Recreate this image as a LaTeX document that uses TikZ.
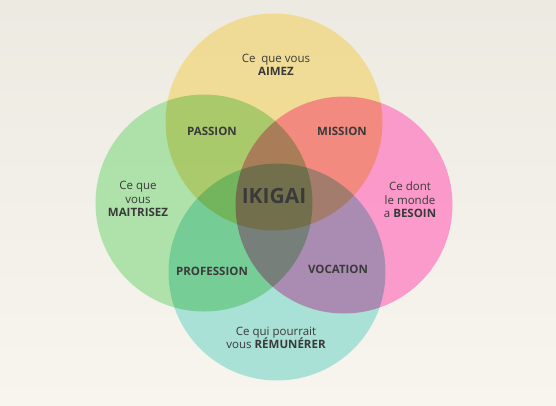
\documentclass[tikz,border=0pt]{standalone}
\usepackage{fontspec}
\setmainfont{Open Sans}
\definecolor{bgtop}{HTML}{ECEAE1}
\definecolor{bgbot}{HTML}{F7F5EE}
\definecolor{yel}{HTML}{F2D679}
\definecolor{grn}{HTML}{95DD93}
\definecolor{pnk}{HTML}{FF7AC0}
\definecolor{tea}{HTML}{8CDBCE}
\definecolor{txt}{HTML}{3A3A3A}
\begin{document}
\begin{tikzpicture}[x=1pt,y=-1pt,
  circ/.style={circle, minimum size=217pt, inner sep=0pt, draw=none, fill opacity=0.72},
  lbl/.style={text=txt, align=center, font=\fontsize{11.5}{13.5}\selectfont, inner sep=0pt},
  zonelbl/.style={lbl, font=\fontsize{11.5}{13.5}\selectfont\bfseries},
  biglbl/.style={text=txt, inner sep=0pt, font=\fontsize{21}{24}\selectfont\bfseries}]
\useasboundingbox (0,0) rectangle (556,405);
\shade[top color=bgtop, bottom color=bgbot] (0,0) rectangle (556,405);
\begin{scope}[blend group=multiply]
  \node[circ, fill=yel] (aimez) at (274,122) {};
  \node[circ, fill=grn] (maitrise) at (204,203) {};
  \node[circ, fill=pnk] (besoin) at (344,205) {};
  \node[circ, fill=tea] (remun) at (277,272) {};
\end{scope}
\node[lbl] (t1) at (276,65) {Ce\enspace que vous\\\textbf{AIMEZ}};
\node[lbl] (t2) at (138,199) {Ce que\\vous\\\textbf{MAITRISEZ}};
\node[lbl] (t3) at (410,200) {Ce dont\\le monde\\a \textbf{BESOIN}};
\node[lbl] (t4) at (276,338) {Ce qui pourrait\\vous \textbf{RÉMUNÉRER}};
\node[zonelbl] (passion) at (212,131) {PASSION};
\node[zonelbl] (mission) at (342,131) {MISSION};
\node[zonelbl] (profession) at (212,271) {PROFESSION};
\node[zonelbl] (vocation) at (338,269) {VOCATION};
\node[biglbl] (ikigai) at (274,196) {IKIGAI};
\end{tikzpicture}
\end{document}
